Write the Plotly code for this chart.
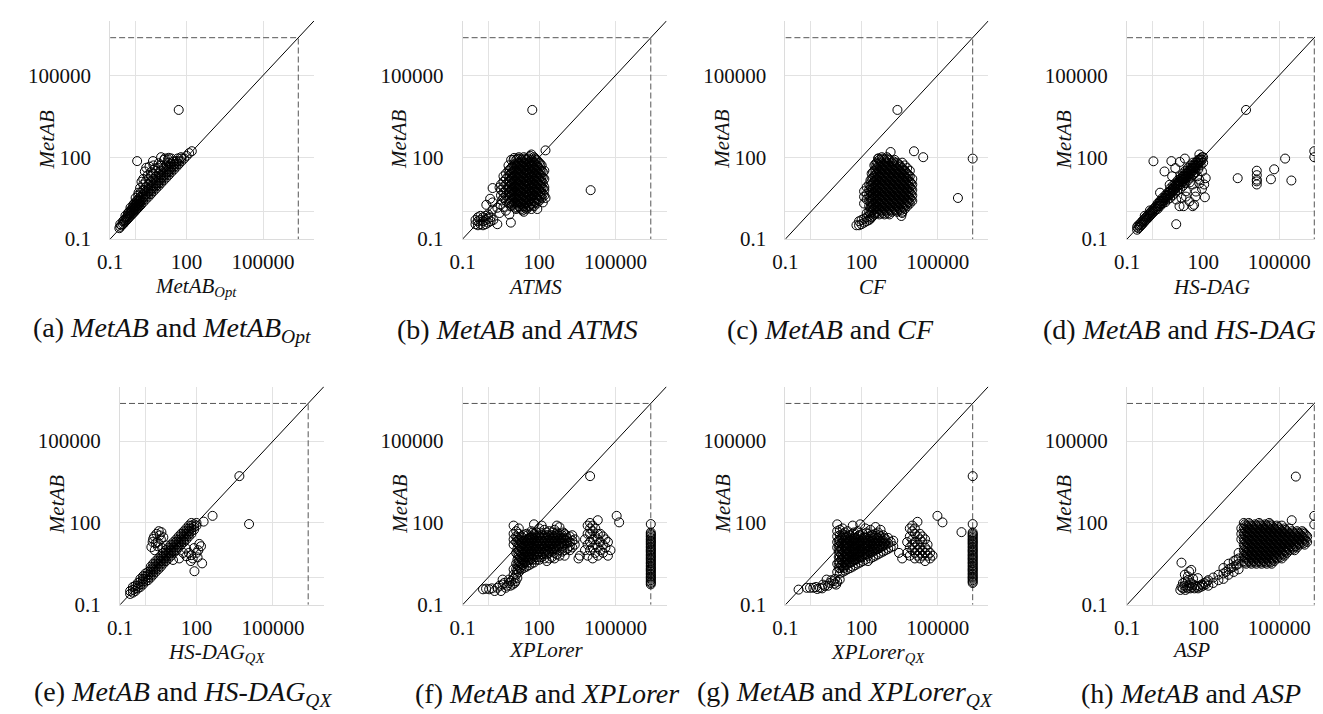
import plotly.graph_objects as go

# ======================= data (run times, log-log) =======================
# Each panel: COLS = runs grouped by the other solver's time (x, [MetAB times]),
# plus individual scattered runs X*/Y*.
TIMEOUT = 2.4e6
DIAG = [0.1, 1e7]
MAJOR_TICKS = [0.1, 100, 100000]
MAJOR_TEXT = ["0.1", "100", "100000"]
MINOR_GRID = [1]

# ---- (a) MetAB vs MetAB_Opt ----
A_COLS = [
    (0.23, [0.25]), (0.25, [0.28, 0.35]), (0.28, [0.32]), (0.32, [0.35, 0.45]),
    (0.36, [0.4, 0.5]), (0.4, [0.45, 0.56, 0.71]), (0.45, [0.5, 0.63]),
    (0.5, [0.56, 0.71, 0.89]), (0.56, [0.63, 0.8, 1.0]), (0.63, [0.71, 0.89, 1.12, 1.41]),
    (0.71, [0.8, 1.0, 1.26]), (0.8, [0.89, 1.12, 1.41, 1.78]), (0.89, [1.0, 1.26, 1.6, 2.0]),
    (1.0, [1.12, 1.41, 1.78, 2.24, 3.2]), (1.12, [1.26, 1.6, 2.0, 2.5]),
    (1.26, [1.41, 1.78, 2.24, 2.82, 4.0]), (1.41, [1.6, 2.0, 2.5, 3.2]),
    (1.6, [1.78, 2.24, 2.82, 3.55, 5.0]), (2.0, [2.24, 2.82, 3.55, 4.47, 6.3, 10]),
    (2.5, [2.82, 3.55, 4.47, 5.62, 8.0, 12.6]), (3.2, [3.55, 4.47, 5.62, 7.08, 10, 16]),
    (4.0, [4.47, 5.62, 7.08, 8.91, 12.6, 20]), (5.0, [5.62, 7.08, 8.91, 11.2, 16, 25]),
    (6.3, [7.08, 8.91, 11.2, 14.1, 20, 32]), (8.0, [8.91, 11.2, 14.1, 17.8, 25, 40]),
    (10, [11.2, 14.1, 17.8, 22.4, 32, 50]), (12.6, [14.1, 17.8, 22.4, 28.2, 40]),
    (16, [17.8, 22.4, 28.2, 35.5, 50]), (20, [22.4, 28.2, 35.5, 44.7, 63]),
    (25, [28.2, 35.5, 44.7, 56.2]), (32, [35.5, 44.7, 56.2, 70.8]), (40, [44.7, 56.2, 70.8]),
    (50, [56.2, 70.8]), (63, [70.8, 89.1]), (80, [89.1]), (100, [112]), (126, [141]), (160, [166]),
]
XA = [1.15, 4.8, 10, 2.3, 1.5, 1.7, 2.6, 3.5, 18.6, 29, 49, 1.3, 2, 6, 8, 13, 4, 25, 14, 20, 45, 60, 3, 5, 2.2]
YA = [72, 72, 100, 30, 7.4, 12.6, 41, 45, 83, 68, 5400, 5, 16, 40, 60, 80, 28, 90, 90, 95, 90, 100, 22, 50, 6]

# ---- (b) MetAB vs ATMS ----
B_COLS = [
    (0.32, [0.35, 0.5]), (0.4, [0.32, 0.45, 0.63]), (0.5, [0.35, 0.5, 0.71]),
    (0.63, [0.32, 0.45, 0.63]), (0.8, [0.35, 0.5, 0.71]), (1.0, [0.4, 0.56, 0.8]),
    (1.26, [0.45, 0.63]), (1.6, [0.5]),
    (3.2, [4, 6.3, 10]), (4, [3.2, 5, 8, 12.6, 20]), (5, [2.5, 4, 6.3, 10, 16, 25]),
    (6.3, [2, 3.2, 5, 8, 12.6, 20, 32, 50]), (8, [1.6, 2.5, 4, 6.3, 10, 16, 25, 40, 80]),
    (10, [2, 3.2, 5, 8, 12.6, 20, 32, 50, 80]),
    (12.6, [1.26, 2, 3.2, 5, 8, 12.6, 20, 32, 50, 80]),
    (16, [1.6, 2.5, 4, 6.3, 10, 16, 25, 40, 63, 100]),
    (20, [1.26, 2, 3.2, 5, 8, 12.6, 20, 32, 50, 80]),
    (25, [1, 1.6, 2.5, 4, 6.3, 10, 16, 25, 40, 63, 100]),
    (32, [1.26, 2, 3.2, 5, 8, 12.6, 20, 32, 50, 80]),
    (40, [1.6, 2.5, 4, 6.3, 10, 16, 25, 40, 63, 100]),
    (50, [1.26, 2, 3.2, 5, 8, 12.6, 20, 32, 50, 80, 126]),
    (63, [1.6, 2.5, 4, 6.3, 10, 16, 25, 40, 63, 100]),
    (80, [2, 3.2, 5, 8, 12.6, 20, 32, 50, 80]),
    (100, [2.5, 4, 6.3, 10, 16, 25, 40, 63]),
    (126, [3.2, 5, 8, 12.6, 20, 32, 50]), (160, [4, 8, 16, 32]),
    (7.08, [2.24, 3.55, 5.62, 8.91, 14.1, 22.4, 35.5]),
    (8.91, [1.78, 2.82, 4.47, 7.08, 11.2, 17.8, 28.2, 44.7]),
    (11.2, [1.41, 2.24, 3.55, 5.62, 8.91, 14.1, 22.4, 35.5, 56.2]),
    (14.1, [1.41, 2.24, 3.55, 5.62, 8.91, 14.1, 22.4, 35.5, 56.2, 89.1]),
    (17.8, [1.41, 2.24, 3.55, 5.62, 8.91, 14.1, 22.4, 35.5, 56.2, 89.1]),
    (22.4, [1.12, 1.78, 2.82, 4.47, 7.08, 11.2, 17.8, 28.2, 44.7, 70.8]),
    (28.2, [1.41, 2.24, 3.55, 5.62, 8.91, 14.1, 22.4, 35.5, 56.2, 89.1]),
    (35.5, [1.41, 2.24, 3.55, 5.62, 8.91, 14.1, 22.4, 35.5, 56.2, 89.1]),
    (44.7, [1.78, 2.82, 4.47, 7.08, 11.2, 17.8, 28.2, 44.7, 70.8, 112]),
    (56.2, [1.78, 2.82, 4.47, 7.08, 11.2, 17.8, 28.2, 44.7, 70.8]),
    (70.8, [2.24, 3.55, 5.62, 8.91, 14.1, 22.4, 35.5, 56.2, 89.1]),
    (89.1, [2.82, 4.47, 7.08, 11.2, 17.8, 28.2, 44.7, 70.8]),
    (112, [3.55, 5.62, 8.91, 14.1, 22.4, 35.5, 56.2]), (141, [4.47, 7.08, 11.2, 17.8, 28.2]),
]
XB = [0.85, 1.5, 2.3, 1.5, 2.8, 3.1, 1.2, 1.5, 2.8, 2.3, 7.8, 6.8, 178, 85, 10.5, 54, 10500, 178, 140, 160, 4, 5, 3.5]
YB = [1.8, 2.2, 1.4, 1.2, 0.9, 1.8, 3, 7.4, 7.8, 0.35, 0.4, 0.8, 3.2, 1.26, 94, 5400, 6.2, 178, 2.2, 6.3, 1.5, 1.1, 2.6]

# ---- (c) MetAB vs CF ----
C_COLS = [
    (63, [0.32]), (80, [0.32, 0.45]), (100, [0.35, 0.5]), (126, [0.4, 0.56, 2, 3.55, 5.62]),
    (160, [0.45, 0.63, 0.89, 2.82, 4.47, 8]), (200, [0.5, 0.71, 1, 1.6, 2.5, 4, 6.3, 10]),
    (250, [0.63, 1, 1.6, 2.5, 4, 6.3, 10, 16, 25]),
    (320, [0.8, 1.26, 2, 3.2, 5, 8, 12.6, 20, 32, 50]),
    (400, [1, 1.6, 2.5, 4, 6.3, 10, 16, 25, 40, 63]),
    (500, [0.8, 1.26, 2, 3.2, 5, 8, 12.6, 20, 32, 50, 80]),
    (630, [1, 1.6, 2.5, 4, 6.3, 10, 16, 25, 40, 63, 100]),
    (800, [0.8, 1.26, 2, 3.2, 5, 8, 12.6, 20, 32, 50, 80]),
    (1000, [1, 1.6, 2.5, 4, 6.3, 10, 16, 25, 40, 63, 100]),
    (1260, [0.8, 1.26, 2, 3.2, 5, 8, 12.6, 20, 32, 50, 80]),
    (1600, [1, 1.6, 2.5, 4, 6.3, 10, 16, 25, 40, 63]),
    (2000, [1.26, 2, 3.2, 5, 8, 12.6, 20, 32, 50, 80]),
    (2500, [1, 1.6, 2.5, 4, 6.3, 10, 16, 25, 40, 63]),
    (3200, [1.26, 2, 3.2, 5, 8, 12.6, 20, 32, 50]),
    (4000, [1, 1.6, 2.5, 4, 6.3, 10, 16, 25, 40, 63]),
    (5000, [1.26, 2, 3.2, 5, 8, 12.6, 20, 32, 50]),
    (6300, [1.6, 2.5, 4, 6.3, 10, 16, 25, 40]), (8000, [2, 3.2, 5, 8, 12.6, 20, 32]),
    (10000, [2.5, 4, 6.3, 10, 16]),
    (224, [0.56, 0.89, 1.41, 2.24, 3.55, 5.62, 8.91, 14.1]),
    (282, [0.71, 1.12, 1.78, 2.82, 4.47, 7.08, 11.2, 17.8, 28.2]),
    (355, [0.89, 1.41, 2.24, 3.55, 5.62, 8.91, 14.1, 22.4, 35.5, 56.2]),
    (447, [0.89, 1.41, 2.24, 3.55, 5.62, 8.91, 14.1, 22.4, 35.5, 56.2, 89.1]),
    (562, [1.12, 1.78, 2.82, 4.47, 7.08, 11.2, 17.8, 28.2, 44.7, 70.8]),
    (708, [0.89, 1.41, 2.24, 3.55, 5.62, 8.91, 14.1, 22.4, 35.5, 56.2, 89.1]),
    (891, [1.12, 1.78, 2.82, 4.47, 7.08, 11.2, 17.8, 28.2, 44.7, 70.8]),
    (1120, [0.89, 1.41, 2.24, 3.55, 5.62, 8.91, 14.1, 22.4, 35.5, 56.2, 89.1]),
    (1410, [1.12, 1.78, 2.82, 4.47, 7.08, 11.2, 17.8, 28.2, 44.7]),
    (1780, [1.41, 2.24, 3.55, 5.62, 8.91, 14.1, 22.4, 35.5, 56.2, 70.8]),
    (2240, [1.12, 1.78, 2.82, 4.47, 7.08, 11.2, 17.8, 28.2, 44.7]),
    (2820, [1.41, 2.24, 3.55, 5.62, 8.91, 14.1, 22.4, 35.5, 56.2]),
    (3550, [1.12, 1.78, 2.82, 4.47, 7.08, 11.2, 17.8, 28.2, 44.7]),
    (4470, [1.41, 2.24, 3.55, 5.62, 8.91, 14.1, 22.4, 35.5]),
    (5620, [1.78, 2.82, 4.47, 7.08, 11.2, 17.8, 28.2]),
    (7080, [2.24, 3.55, 5.62, 8.91, 14.1, 22.4]), (8910, [2.82, 4.47, 7.08, 11.2]),
]
XC = [2600, 11700, 27000, 630000, 2.4e6, 4000, 3700, 1400, 470]
YC = [5400, 165, 100, 3.2, 89, 0.9, 0.7, 155, 90]

# ---- (d) MetAB vs HS-DAG ----
D_COLS = [
    (0.25, [0.22, 0.28]), (0.28, [0.25, 0.32]), (0.32, [0.28, 0.35]), (0.36, [0.32, 0.4]),
    (0.4, [0.35, 0.45]), (0.45, [0.4, 0.5]), (0.5, [0.45, 0.56, 0.71]), (0.56, [0.5, 0.63]),
    (0.63, [0.56, 0.71]), (0.71, [0.63, 0.8]), (0.8, [0.71, 0.89, 1.12]), (0.89, [0.8, 1.0]),
    (1.0, [0.89, 1.12]), (1.12, [1.0, 1.26]), (1.26, [1.12, 1.41]), (1.41, [1.26, 1.6]),
    (1.6, [1.26, 1.6, 2]), (1.78, [1.6, 2.0]), (2, [1.6, 2, 2.5]), (2.24, [2.0, 2.5]),
    (2.5, [2, 2.5, 3.2]), (2.82, [2.5, 3.2]), (3.2, [2.24, 3.2, 4]), (3.55, [3.2, 4.0]),
    (4, [2.82, 4, 5]), (4.47, [4, 5]), (5, [3.2, 4.47, 5.62, 7.08]), (5.62, [5, 6.3]),
    (6.3, [4, 5.62, 7.08, 8.91]), (7.08, [6.3, 8]), (8, [5, 7.08, 8.91, 11.2]), (8.91, [8, 10]),
    (10, [6.3, 8.91, 11.2, 14.1]), (11.2, [10, 12.6]), (12.6, [7.08, 10, 12.6, 16, 20]),
    (14.1, [12.6, 16]), (16, [8.91, 12.6, 16, 20, 25]), (17.8, [16, 20]),
    (20, [11.2, 16, 20, 25, 32]), (22.4, [20, 25]), (25, [14.1, 20, 25, 32, 40]), (28.2, [25, 32]),
    (32, [17.8, 25, 32, 40, 50]), (35.5, [32, 40]), (40, [22.4, 32, 40, 50, 63]), (44.7, [40, 50]),
    (50, [28.2, 40, 50, 63]), (56.2, [50, 63]), (63, [35.5, 50, 63, 80]), (70.8, [63, 80]),
    (80, [50, 70.8, 89.1]), (89.1, [80, 100]), (100, [63, 100]),
]
XD = [8.7, 11.7, 17, 39, 44, 50, 117, 126, 71, 21, 14, 29, 90, 60, 11.7, 21, 39, 52, 71, 110, 21, 8.7, 30, 45, 90,
      1.1, 5.6, 12, 19, 71, 4.8, 3, 8, 2, 6,
      2300, 13000, 13000, 13000, 13000, 13000, 47000, 63000, 170000, 300000, 2.4e6, 2.4e6, 4900]
YD = [0.35, 1.6, 1.6, 1.6, 1.8, 3.6, 3.4, 17, 11, 5.6, 3.2, 2.4, 7, 20, 12.6, 17, 10, 5.5, 15, 10, 3.6, 2.8, 12, 25, 30,
      71, 72, 67, 89, 126, 9.8, 30, 40, 5, 20,
      17, 32, 22, 13, 10, 15, 15.5, 36, 89, 14, 166, 100, 5400]

# ---- (e) MetAB vs HS-DAG_QX ----
E_COLS = [
    (0.25, [0.25, 0.32]), (0.32, [0.28, 0.35, 0.45]), (0.4, [0.32, 0.4, 0.5]), (0.5, [0.4, 0.5, 0.63]),
    (0.63, [0.45, 0.56, 0.71, 0.89]), (0.8, [0.56, 0.71, 0.89, 1.12]), (1.0, [0.71, 0.89, 1.12, 1.41]),
    (1.26, [0.8, 1, 1.26, 1.6]), (1.6, [1, 1.26, 1.6, 2, 2.5]), (2, [1.26, 1.6, 2, 2.5, 3.2]),
    (2.5, [1.6, 2, 2.5, 3.2, 4]), (3.2, [2, 2.5, 3.2, 4, 5]), (4, [2.5, 3.2, 4, 5, 6.3]),
    (5, [3.2, 4, 5, 6.3, 8]), (6.3, [4, 5, 6.3, 8, 10]), (8, [5, 6.3, 8, 10, 12.6]),
    (10, [6.3, 8, 10, 12.6, 16]), (12.6, [8, 10, 12.6, 16, 20]), (16, [10, 12.6, 16, 20, 25]),
    (20, [12.6, 16, 20, 25, 32]), (25, [16, 20, 25, 32, 40]), (32, [20, 25, 32, 40, 50]),
    (40, [25, 32, 40, 50, 63]), (50, [32, 40, 50, 63, 80]), (63, [40, 50, 63, 80, 100]),
    (80, [56.2, 70.8, 89.1]), (100, [80, 100]),
]
XE = [2, 2.7, 3.6, 1.7, 2.3, 4.2, 6.6, 3, 2.2, 3.3, 2.5, 4, 5, 1.9, 3, 4.5,
      71, 166, 83, 62, 129, 118, 39, 21, 12, 100, 150, 50, 40, 30, 80, 60, 110,
      190, 427, 4800, 11500]
YE = [26, 40, 35, 13, 10, 46, 15, 20, 32, 50, 18, 25, 30, 20, 14, 12,
      5, 3.3, 1.7, 6.6, 17, 10, 11.5, 5, 4.4, 8, 14, 8, 6, 8, 12, 4, 5.5,
      112, 182, 5200, 91]

# ---- (f) MetAB vs XPLorer ----
F_COLS = [
    (10, [1.26, 2, 16, 25, 40, 80]), (12.6, [1.26, 2, 3.2, 8, 20, 32, 50]),
    (16, [1.6, 2.5, 4, 6.3, 10, 16, 25, 40, 63]), (20, [2, 3.2, 5, 8, 12.6, 20, 32]),
    (25, [2.24, 3.55, 5.62, 8.91, 14.1, 22.4, 35.5]), (32, [2.5, 4, 6.3, 10, 16, 25, 40]),
    (40, [2.82, 4.47, 7.08, 11.2, 17.8, 28.2]), (50, [3.2, 5, 8, 12.6, 20, 32, 50]),
    (63, [3.55, 6.3, 10, 16, 25, 40, 89]), (80, [4.47, 7.08, 11.2, 17.8, 28.2, 44.7]),
    (100, [4.47, 8, 12.6, 20, 32, 63]), (126, [5.62, 8.91, 14.1, 22.4, 35.5, 80]),
    (160, [5, 8, 12.6, 20, 32, 56]), (200, [4, 7.08, 11.2, 17.8, 28.2, 44.7]),
    (250, [5, 8, 12.6, 20, 32, 50]), (320, [5.62, 8.91, 14.1, 22.4, 35.5]),
    (400, [5, 8, 12.6, 20, 32, 56]), (500, [7.08, 11.2, 17.8, 28.2, 44.7, 80]),
    (630, [6.3, 10, 16, 25, 40, 70]), (800, [8.91, 14.1, 22.4, 35.5]), (1000, [6.3, 10, 16, 25, 40]),
    (1260, [11.2, 17.8, 28.2]), (1600, [10, 14.1, 20, 32]), (2000, [12.6, 22.4, 35.5]), (2500, [16, 25]),
    (14.1, [1.78, 2.82, 4.47, 7.08, 11.2, 17.8, 28.2]), (17.8, [2.24, 3.55, 5.62, 8.91, 14.1, 22.4]),
    (22.4, [2.82, 4.47, 7.08, 11.2, 17.8, 28.2]), (28.2, [3.55, 5.62, 8.91, 14.1, 22.4]),
    (35.5, [3.55, 5.62, 8.91, 14.1, 22.4, 35.5]), (44.7, [4.47, 7.08, 11.2, 17.8, 28.2]),
    (56.2, [4.47, 7.08, 11.2, 17.8, 28.2, 44.7]), (70.8, [5.62, 8.91, 14.1, 22.4, 35.5]),
    (89.1, [5.62, 8.91, 14.1, 22.4, 35.5]), (112, [7.08, 11.2, 17.8, 28.2, 44.7]),
    (141, [7.08, 11.2, 17.8, 28.2]), (178, [8.91, 14.1, 22.4, 35.5]), (224, [8.91, 14.1, 22.4, 35.5]),
    (282, [11.2, 17.8, 28.2]), (355, [11.2, 17.8, 28.2, 44.7]), (447, [14.1, 22.4, 35.5]),
    (562, [14.1, 22.4, 35.5]), (708, [17.8, 28.2]), (891, [17.8, 28.2, 44.7]), (1120, [22.4, 35.5]),
    (6300, [10, 25]), (8000, [6.3, 16, 40, 80]), (10000, [10, 20, 40, 63, 100]),
    (12600, [5, 12.6, 25, 50, 80]), (16000, [8, 16, 32, 63]), (20000, [6.3, 12.6, 25, 40, 126]),
    (25000, [10, 20, 40]), (32000, [8, 16, 32]), (40000, [12.6, 25]), (50000, [6.3, 20]), (63000, [10]),
    (TIMEOUT, [91, 45, 40, 36, 32, 28, 25, 22, 20, 18, 16, 14, 12.6, 11, 10, 9, 8, 7, 6.3, 5.6, 5,
               4.5, 4, 3.5, 3.2, 2.8, 2.5, 2.2, 2, 1.8, 1.6, 1.4, 1.26, 1.1, 1, 0.9, 0.8, 0.7, 0.63, 0.56]),
]
XF = [0.63, 0.83, 1.1, 1.8, 2.3, 3.2, 3.7, 4.9, 6.6, 9.1, 12, 3.7, 6.6, 14, 2.8, 5.5, 8, 10, 1.4, 4.2, 7.5, 11,
      3500, 4000, 10000, 110000, 138000]
YF = [0.37, 0.39, 0.37, 0.32, 0.42, 0.32, 0.55, 0.42, 0.63, 0.55, 0.73, 0.84, 0.84, 0.96, 0.5, 0.5, 0.75, 0.9, 0.4, 0.63, 0.5, 0.63,
      5, 6.3, 5200, 182, 105]

# ---- (g) MetAB vs XPLorer_QX ----
G_COLS = [
    (11, [1.6, 3.2, 12.6, 20, 32, 50, 89]),
    (14, [1.41, 2.24, 3.55, 5.62, 8.91, 14.1, 22.4, 35.5, 56.2]),
    (18, [1.6, 2.5, 4, 6.3, 10, 16, 25, 40, 63]), (22, [1.78, 2.82, 4.47, 7.08, 11.2, 17.8, 28.2, 44.7]),
    (28, [2, 3.2, 5, 8, 12.6, 20, 32, 50]), (36, [2.24, 3.55, 5.62, 8.91, 14.1, 22.4, 35.5]),
    (45, [2.5, 4, 6.3, 10, 16, 25, 40, 80]), (56, [2.82, 4.47, 7.08, 11.2, 17.8, 28.2]),
    (71, [3.2, 5, 8, 12.6, 20, 32, 50]), (89, [3.55, 5.62, 8.91, 14.1, 22.4, 35.5, 89.1]),
    (112, [4, 6.3, 10, 16, 25, 40]), (141, [4.47, 7.08, 11.2, 17.8, 28.2, 63]),
    (178, [4, 6.3, 10, 16, 25, 40]), (224, [5, 8, 12.6, 20, 32, 56]),
    (282, [5.62, 8.91, 14.1, 22.4, 35.5]), (355, [6.3, 10, 16, 25, 40, 71]),
    (447, [7.08, 11.2, 17.8, 28.2, 44.7]), (562, [8, 12.6, 20, 32, 56]), (708, [8.91, 14.1, 22.4, 35.5]),
    (891, [10, 16, 25]), (1120, [11.2, 17.8, 28.2]), (1410, [12.6, 20]), (1780, [14.1, 22.4]),
    (12.6, [2.24, 3.55, 5.62, 8.91, 14.1, 22.4]), (16, [2.82, 4.47, 7.08, 11.2, 17.8, 28.2]),
    (20, [2.24, 3.55, 5.62, 8.91, 14.1, 22.4, 35.5]), (25, [2.82, 4.47, 7.08, 11.2, 17.8, 28.2]),
    (32, [3.55, 5.62, 8.91, 14.1, 22.4, 35.5]), (40, [3.55, 5.62, 8.91, 14.1, 22.4]),
    (50, [4.47, 7.08, 11.2, 17.8, 28.2, 44.7]), (63, [4.47, 7.08, 11.2, 17.8, 28.2]),
    (80, [5.62, 8.91, 14.1, 22.4, 35.5]), (100, [5.62, 8.91, 14.1, 22.4]),
    (126, [7.08, 11.2, 17.8, 28.2]), (160, [7.08, 11.2, 17.8, 28.2, 44.7]), (200, [8.91, 14.1, 22.4]),
    (250, [8.91, 14.1, 22.4, 35.5]), (320, [11.2, 17.8, 28.2]), (400, [11.2, 17.8, 28.2]),
    (500, [14.1, 22.4, 35.5]), (630, [14.1, 22.4]), (800, [17.8, 28.2]),
    (6300, [8, 20]), (8000, [6.3, 12.6, 32, 63]), (10000, [10, 16, 25, 50, 80]),
    (12600, [5, 8, 12.6, 20, 40, 63]), (16000, [6.3, 10, 16, 32, 110]), (20000, [5, 8, 12.6, 25, 40]),
    (25000, [6.3, 10, 20, 32]), (32000, [4, 8, 12.6, 25]), (40000, [6.3, 10, 16]), (50000, [5, 8]), (63000, [6.3]),
    (TIMEOUT, [5200, 91, 45, 40, 36, 32, 28, 25, 22, 20, 18, 16, 14, 12.6, 11, 10, 9, 8, 7, 6.3, 5.6, 5,
               4.5, 4, 3.5, 3.2, 2.8, 2.5, 2.2, 2, 1.8, 1.6, 1.4, 1.26, 1.1, 1, 0.9, 0.8, 0.7, 0.63]),
]
XG = [0.33, 0.69, 0.93, 1.26, 2.3, 3.6, 5.6, 10, 4.2, 7.6, 13.8, 1.8, 3, 8.5, 11, 1.6, 2.8, 4.8, 6.5, 9,
      98000, 155000, 870000, 4000, 3000]
YG = [0.36, 0.42, 0.42, 0.42, 0.42, 0.49, 0.63, 0.55, 0.84, 0.73, 0.84, 0.38, 0.55, 0.6, 0.7, 0.45, 0.4, 0.5, 0.8, 0.9,
      182, 105, 46, 5, 8]

# ---- (h) MetAB vs ASP ----
H_COLS = [
    (3200, [25, 40, 63]),
    (4000, [4, 6.3, 10, 16, 25, 40, 63, 100]), (5000, [3.2, 5, 8, 12.6, 20, 32, 50, 80]),
    (6300, [4, 6.3, 10, 16, 25, 40, 63, 100]), (8000, [3.2, 5, 8, 12.6, 20, 32, 50, 80]),
    (10000, [4, 6.3, 10, 16, 25, 40, 63]), (12600, [3.2, 5, 8, 12.6, 20, 32, 50, 80]),
    (16000, [4, 6.3, 10, 16, 25, 40, 63, 100]), (20000, [3.2, 5, 8, 12.6, 20, 32, 50, 80]),
    (25000, [4, 6.3, 10, 16, 25, 40, 63]), (32000, [3.2, 5, 8, 12.6, 20, 32, 50, 80]),
    (40000, [4, 6.3, 10, 16, 25, 40, 63, 100]), (50000, [3.2, 5, 8, 12.6, 20, 32, 50, 80]),
    (63000, [4, 6.3, 10, 16, 25, 40, 63]), (80000, [5, 8, 12.6, 20, 32, 50, 80]),
    (100000, [6.3, 10, 16, 25, 40, 63]), (126000, [5, 8, 12.6, 20, 32, 50, 80]),
    (160000, [6.3, 10, 16, 25, 40, 63]), (200000, [8, 12.6, 20, 32, 50]),
    (250000, [10, 16, 25, 40, 63]), (320000, [12.6, 20, 32, 50]), (400000, [10, 16, 25, 40]),
    (500000, [12.6, 20, 32, 50]), (630000, [16, 25, 40]), (800000, [20, 32, 50]),
    (1000000, [16, 25, 40]), (1260000, [20, 32]),
    (4470, [3.55, 5.62, 8.91, 14.1, 22.4, 35.5, 56.2, 89.1]), (5620, [4.47, 7.08, 11.2, 17.8, 28.2, 44.7, 70.8]),
    (7080, [3.55, 5.62, 8.91, 14.1, 22.4, 35.5, 56.2, 89.1]), (8910, [4.47, 7.08, 11.2, 17.8, 28.2, 44.7, 70.8]),
    (11200, [3.55, 5.62, 8.91, 14.1, 22.4, 35.5, 56.2, 89.1]), (14100, [4.47, 7.08, 11.2, 17.8, 28.2, 44.7, 70.8]),
    (17800, [3.55, 5.62, 8.91, 14.1, 22.4, 35.5, 56.2, 89.1]), (22400, [4.47, 7.08, 11.2, 17.8, 28.2, 44.7, 70.8]),
    (28200, [3.55, 5.62, 8.91, 14.1, 22.4, 35.5, 56.2, 89.1]), (35500, [4.47, 7.08, 11.2, 17.8, 28.2, 44.7, 70.8]),
    (44700, [3.55, 5.62, 8.91, 14.1, 22.4, 35.5, 56.2, 89.1]), (56200, [4.47, 7.08, 11.2, 17.8, 28.2, 44.7, 70.8]),
    (70800, [5.62, 8.91, 14.1, 22.4, 35.5, 56.2]), (89100, [7.08, 11.2, 17.8, 28.2, 44.7, 70.8]),
    (112000, [5.62, 8.91, 14.1, 22.4, 35.5, 56.2]), (141000, [7.08, 11.2, 17.8, 28.2, 44.7]),
    (178000, [8.91, 14.1, 22.4, 35.5, 56.2]), (224000, [11.2, 17.8, 28.2, 44.7]),
    (282000, [14.1, 22.4, 35.5]), (355000, [11.2, 17.8, 28.2, 44.7]), (447000, [14.1, 22.4, 35.5]),
    (562000, [17.8, 28.2, 44.7]), (708000, [22.4, 35.5]), (891000, [17.8, 28.2, 44.7]), (1120000, [22.4, 35.5]),
    (160, [0.5, 0.8]), (250, [0.63, 1]), (400, [0.8, 1.26]), (630, [0.89, 1.41, 2.24]),
    (800, [1.6]), (1000, [1.26, 2, 3.2]), (1260, [2.24]), (1600, [1.6, 2.5, 4]),
    (2000, [2.82, 4.47]), (2500, [2, 3.2, 5, 8]),
]
XH = [12.6, 14, 16, 18, 20, 22, 25, 28, 32, 36, 40, 45, 50, 56, 63, 71, 80, 90, 100, 112, 126, 141,
      16, 20, 25, 32, 14, 28, 34, 19, 62, 25, 40,
      450000, 310000, 2.4e6, 2.4e6]
YH = [0.35, 0.45, 0.4, 0.5, 0.35, 0.45, 0.4, 0.5, 0.4, 0.45, 0.56, 0.4, 0.5, 0.45, 0.4, 0.5, 0.45, 0.56, 0.5, 0.63, 0.56, 0.71,
      0.63, 0.71, 0.8, 0.63, 3.5, 1.66, 1.9, 1.27, 0.95, 1.1, 0.9,
      5000, 126, 182, 88]

PANELS = [
    (A_COLS, XA, YA, "<i>MetAB<sub>Opt</sub></i>", "(a) <i>MetAB</i> and <i>MetAB<sub>Opt</sub></i>"),
    (B_COLS, XB, YB, "<i>ATMS</i>", "(b) <i>MetAB</i> and <i>ATMS</i>"),
    (C_COLS, XC, YC, "<i>CF</i>", "(c) <i>MetAB</i> and <i>CF</i>"),
    (D_COLS, XD, YD, "<i>HS-DAG</i>", "(d) <i>MetAB</i> and <i>HS-DAG</i>"),
    (E_COLS, XE, YE, "<i>HS-DAG<sub>QX</sub></i>", "(e) <i>MetAB</i> and <i>HS-DAG<sub>QX</sub></i>"),
    (F_COLS, XF, YF, "<i>XPLorer</i>", "(f) <i>MetAB</i> and <i>XPLorer</i>"),
    (G_COLS, XG, YG, "<i>XPLorer<sub>QX</sub></i>", "(g) <i>MetAB</i> and <i>XPLorer<sub>QX</sub></i>"),
    (H_COLS, XH, YH, "<i>ASP</i>", "(h) <i>MetAB</i> and <i>ASP</i>"),
]

# ======================= layout geometry (pixels) =======================
W, H = 1323, 714
ROW_BOX = [(13, 235), (385, 607)]
COL_BOX = [[(90, 296), (446, 652), (772, 977), (1117, 1322)],
           [(100, 306), (446, 652), (772, 977), (1117, 1322)]]
XTITLE_CX = [177, 519, 860, 1202, 197, 531, 865, 1182]
XTITLE_DY = [0, 0, 0, 0, 3, 0, 3, 0]
CAPTION_CX = [152, 501, 818, 1170, 164, 531, 832, 1182]
XTITLE_Y = [284, 653]
CAPTION_Y = [327, 697]
YTITLE_Y = [134, 505]

FONT = "Liberation Serif, Times New Roman, Times, serif"
TXT = "#111111"


def px(x):
    return x / W


def py(y):
    return 1 - y / H


def flatten(cols, xs, ys):
    fx, fy = [], []
    for xv, col in cols:
        for yv in col:
            fx.append(xv)
            fy.append(yv)
    return fx + list(xs), fy + list(ys)


fig = go.Figure()
annotations = []
layout = {}

for i, (cols, xs, ys, xtitle, caption) in enumerate(PANELS):
    r, c = divmod(i, 4)
    n = i + 1
    xa = "x" if n == 1 else f"x{n}"
    ya = "y" if n == 1 else f"y{n}"
    l, rr = COL_BOX[r][c]
    t, b = ROW_BOX[r]
    px_, py_ = flatten(cols, xs, ys)

    fig.add_trace(go.Scatter(x=DIAG, y=DIAG, mode="lines",
                             line=dict(color="black", width=1),
                             xaxis=xa, yaxis=ya, showlegend=False, hoverinfo="skip"))
    fig.add_trace(go.Scatter(x=[DIAG[0], TIMEOUT, TIMEOUT], y=[TIMEOUT, TIMEOUT, DIAG[0]],
                             mode="lines",
                             line=dict(color="#555555", width=1, dash="6px,3px"),
                             xaxis=xa, yaxis=ya, showlegend=False, hoverinfo="skip"))
    fig.add_trace(go.Scatter(x=px_, y=py_, mode="markers",
                             marker=dict(symbol="circle-open", size=9, color="black",
                                         line=dict(width=1, color="black")),
                             xaxis=xa, yaxis=ya, showlegend=False))

    common = dict(type="log", range=[-1, 7], tickmode="array",
                  tickvals=MAJOR_TICKS, ticktext=MAJOR_TEXT,
                  showgrid=True, gridcolor="#e2e2e2", gridwidth=1,
                  minor=dict(tickmode="array", tickvals=MINOR_GRID, showgrid=True,
                             gridcolor="#e2e2e2", gridwidth=1, ticks=""),
                  showline=True, linecolor="#dcdcdc", linewidth=1,
                  zeroline=False, ticks="outside", tickcolor="rgba(0,0,0,0)",
                  tickfont=dict(family=FONT, size=21, color=TXT))
    xkey = "xaxis" if n == 1 else f"xaxis{n}"
    ykey = "yaxis" if n == 1 else f"yaxis{n}"
    layout[xkey] = dict(common, domain=[px(l), px(rr)], anchor=ya, ticklen=4)
    layout[ykey] = dict(common, domain=[py(b), py(t)], anchor=xa, ticklen=14)

    annotations.append(dict(x=px(XTITLE_CX[i]), y=py(XTITLE_Y[r] + XTITLE_DY[i]),
                            xref="paper", yref="paper",
                            text=xtitle, showarrow=False, xanchor="center", yanchor="middle",
                            font=dict(family=FONT, size=21, color=TXT)))
    annotations.append(dict(x=px(l - 64), y=py(YTITLE_Y[r]), xref="paper", yref="paper",
                            text="<i>MetAB</i>", textangle=-90, showarrow=False,
                            xanchor="center", yanchor="middle",
                            font=dict(family=FONT, size=21, color=TXT)))
    annotations.append(dict(x=px(CAPTION_CX[i]), y=py(CAPTION_Y[r]), xref="paper", yref="paper",
                            text=caption, showarrow=False, xanchor="center", yanchor="middle",
                            font=dict(family=FONT, size=28, color=TXT)))

fig.update_layout(width=W, height=H, margin=dict(l=0, r=0, t=0, b=0),
                  paper_bgcolor="white", plot_bgcolor="white",
                  annotations=annotations, **layout)

fig.write_html("out.html")
